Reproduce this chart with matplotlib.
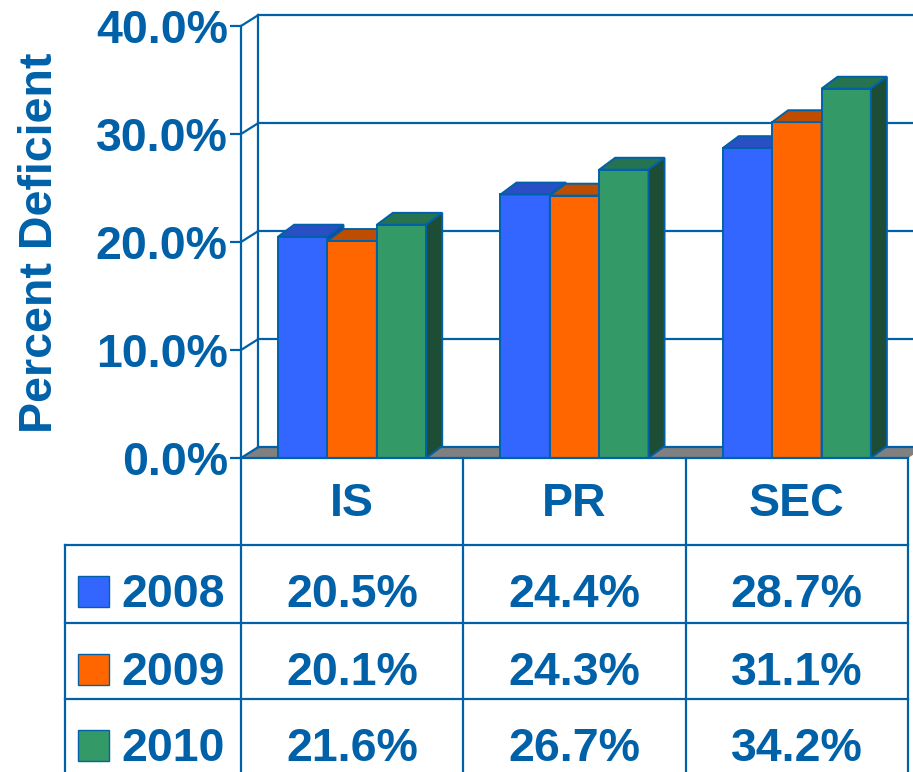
import numpy as np
import matplotlib.pyplot as plt
from matplotlib.patches import Polygon, Rectangle

categories = ['IS', 'PR', 'SEC']
years = ['2008', '2009', '2010']
pct_2008 = [20.5, 24.4, 28.7]
pct_2009 = [20.1, 24.3, 31.1]
pct_2010 = [21.6, 26.7, 34.2]
yticks = [0, 10, 20, 30, 40]

INK = '#0061A9'
front_col = ['#3366FF', '#FF6600', '#339966']
top_col = ['#2A4FC4', '#BF4D00', '#267352']
side_col = ['#2140A0', '#A04000', '#1D4D35']

plt.rcParams['font.family'] = ['Liberation Sans', 'DejaVu Sans']
plt.rcParams['font.weight'] = 'bold'
FS = 33.5

W, H = 913, 772
fig = plt.figure(figsize=(W / 100, H / 100), dpi=100)

# chart area
ax = fig.add_axes([241 / W, 1 - 458 / H, 667 / W, 432 / H])
ax.set_xlim(0, 3)
ax.set_ylim(0, 40)
for s in ['top', 'right', 'bottom']:
    ax.spines[s].set_visible(False)
ax.spines['left'].set_color(INK)
ax.spines['left'].set_linewidth(1.6)
ax.set_xticks([])
ax.set_yticks(yticks)
ax.set_yticklabels(['%.1f%%' % t for t in yticks])
ax.tick_params(axis='y', length=8, width=1.6, color=INK, labelcolor=INK,
               labelsize=FS, pad=1.5)
for lab in ax.get_yticklabels():
    lab.set_fontweight('bold')

wdx, wdy = 0.077, 1.0   # wall depth
bdx, bdy = 0.072, 1.1   # bar depth
bw = 0.222

# floor
ax.add_patch(Polygon([(0, 0), (3, 0), (3 + wdx, wdy), (wdx, wdy)],
                     closed=True, facecolor='#808080', edgecolor='none',
                     zorder=0.5, clip_on=False))
# back wall grid + left wall
for t in yticks:
    ax.plot([wdx, 3 + wdx], [t + wdy, t + wdy], color=INK, lw=1.6,
            zorder=1, clip_on=False)
    ax.plot([0, wdx], [t, t + wdy], color=INK, lw=1.6, zorder=1, clip_on=False)
ax.plot([wdx, wdx], [wdy, 40 + wdy], color=INK, lw=1.6, zorder=1, clip_on=False)
ax.plot([0, 3], [0, 0], color=INK, lw=1.6, zorder=6, clip_on=False)

# bars
x = np.arange(len(categories)) + 0.5
series = [pct_2008, pct_2009, pct_2010]
for i, vals in enumerate(series):
    xc = x + (i - 1) * bw
    ax.bar(xc, vals, width=bw, color=front_col[i], edgecolor=INK, lw=1.4,
           zorder=3 + i, clip_on=False)
    for xx, v in zip(xc, vals):
        l, r = xx - bw / 2, xx + bw / 2
        ax.add_patch(Polygon([(l, v), (r, v), (r + bdx, v + bdy), (l + bdx, v + bdy)],
                             closed=True, facecolor=top_col[i], edgecolor=INK,
                             lw=1.4, zorder=3 + i, clip_on=False))
        ax.add_patch(Polygon([(r, 0), (r + bdx, bdy), (r + bdx, v + bdy), (r, v)],
                             closed=True, facecolor=side_col[i], edgecolor=INK,
                             lw=1.4, zorder=3 + i, clip_on=False))

fig.text(40 / W, 1 - 243 / H, 'Percent Deficient', rotation=90, ha='center',
         va='center', fontsize=FS, color=INK, fontweight='bold')

# data table
tax = fig.add_axes([241 / W, 0, 667 / W, 314 / H])
tax.set_xlim(0, 3)
tax.set_ylim(314, 0)
tax.axis('off')
label_left = -0.792
row_tops = [87, 165, 241]
kw = dict(color=INK, lw=1.6, clip_on=False)
for k in range(len(categories) + 1):
    tax.plot([k, k], [0, 314], **kw)
tax.plot([label_left, label_left], [87, 314], **kw)
for rt in row_tops:
    tax.plot([label_left, 3], [rt, rt], **kw)
for k, c in enumerate(categories):
    tax.text(k + 0.5, 58, c, ha='center', va='baseline', fontsize=FS,
             color=INK, fontweight='bold')
for i, (yr, vals) in enumerate(zip(years, series)):
    base = row_tops[i] + 62
    tax.add_patch(Rectangle((-0.733, base - 31), 0.139, 31, facecolor=front_col[i],
                            edgecolor=INK, lw=1, clip_on=False))
    tax.text(-0.537, base, yr, ha='left', va='baseline', fontsize=FS,
             color=INK, fontweight='bold', clip_on=False)
    for k, v in enumerate(vals):
        tax.text(k + 0.5, base, '%.1f%%' % v, ha='center', va='baseline',
                 fontsize=FS, color=INK, fontweight='bold')

fig.savefig('out.png', dpi=100)
